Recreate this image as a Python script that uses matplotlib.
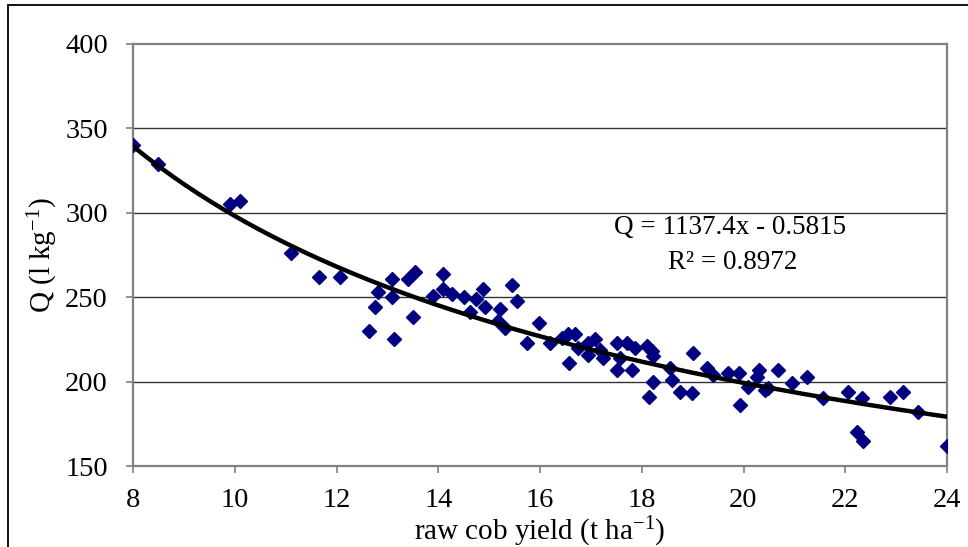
import numpy as np
import matplotlib
matplotlib.use("Agg")
import matplotlib.pyplot as plt
from matplotlib.patches import Rectangle

# font tipo Times
plt.rcParams['font.family'] = ['Liberation Serif', 'DejaVu Serif']
plt.rcParams['mathtext.fontset'] = 'custom'
plt.rcParams['mathtext.rm'] = 'Liberation Serif'
plt.rcParams['mathtext.it'] = 'Liberation Serif:italic'

# dati: resa (t/ha) e Q (l/kg)
cob_yield = [8.0, 8.49, 9.9, 10.1, 11.1, 11.65, 12.07, 12.64, 12.76, 12.82,
             13.09, 13.09, 13.13, 13.4, 13.5, 13.54, 13.9, 14.09, 14.09, 14.27,
             14.51, 14.62, 14.74, 14.88, 14.92, 15.17, 15.21, 15.31, 15.45, 15.55,
             15.75, 15.98, 16.2, 16.43, 16.55, 16.69, 16.57, 16.75, 16.94, 17.08,
             16.94, 17.18, 17.24, 17.51, 17.71, 17.87, 17.51, 17.81, 17.57, 18.1,
             18.2, 18.22, 18.22, 18.14, 18.56, 18.59, 18.75, 18.99, 19.01, 19.28,
             19.4, 19.7, 19.91, 19.93, 20.09, 20.3, 20.27, 20.42, 20.48, 20.68,
             20.95, 21.25, 21.56, 22.05, 22.23, 22.35, 22.33, 22.88, 23.14, 23.43,
             24.0]
q_values = [340, 329, 305, 307, 276, 262, 262, 230, 244, 253,
            250, 261, 225, 261, 238, 265, 251, 264, 255, 252,
            250, 241, 249, 255, 244, 236, 243, 232, 257, 248,
            223, 235, 223, 226, 228, 228, 211, 220, 223, 225,
            216, 219, 214, 223, 223, 220, 207, 207, 214, 221,
            218, 215, 200, 191, 208, 201, 194, 193, 217, 208,
            204, 205, 205, 186, 197, 207, 203, 195, 196, 207,
            199, 203, 190, 194, 170, 165, 190, 191, 194, 182,
            162]

# coefficienti della linea di tendenza (potenza)
coef_a = 1137.4
coef_b = -0.5815
r_squared = 0.8972

x_ticks = [8, 10, 12, 14, 16, 18, 20, 22, 24]
y_ticks = [150, 200, 250, 300, 350, 400]

fig = plt.figure(figsize=(9.68, 5.47), dpi=100)
ax = fig.add_axes([133/968, 1-466/547, 814/968, 422/547])

# griglia orizzontale
for yv in y_ticks[1:-1]:
    ax.axhline(yv, color='#333333', lw=1.0, zorder=1)

ax.plot(cob_yield, q_values, linestyle='none', marker='D', ms=7,
        color='#000080', mec='#000080', zorder=3)

xs = np.linspace(8, 24, 200)
ax.plot(xs, coef_a * xs ** coef_b, color='black', lw=3.2, zorder=4)

ax.set_xlim(8, 24)
ax.set_ylim(150, 400)
ax.set_xticks(x_ticks)
ax.set_yticks(y_ticks)

for s in ax.spines.values():
    s.set_color('#808080')
    s.set_linewidth(1.6)

ax.tick_params(axis='both', direction='out', length=5, width=1.2,
               color='#808080', labelsize=20.5)
ax.tick_params(axis='y', pad=13)
ax.tick_params(axis='x', pad=11)

ax.set_xlabel('raw cob yield (t ha$^{-1}$)', fontsize=21, labelpad=1)
ax.set_ylabel('Q (l kg$^{-1}$)', fontsize=21, labelpad=4)

fig.text(730/968, 1-227/547, f'Q = {coef_a}x - {-coef_b}', fontsize=19.5,
         ha='center', va='center')
fig.text(733/968, 1-263/547, f'R\u00b2 = {r_squared}', fontsize=19.5,
         ha='center', va='center')

# cornice esterna
fig.patches.append(Rectangle((8/968, -0.1), 1.2, 1.1 - 5/547,
                             transform=fig.transFigure, fill=False,
                             edgecolor='black', lw=1.3, clip_on=False))

fig.savefig('out.png', dpi=100)
